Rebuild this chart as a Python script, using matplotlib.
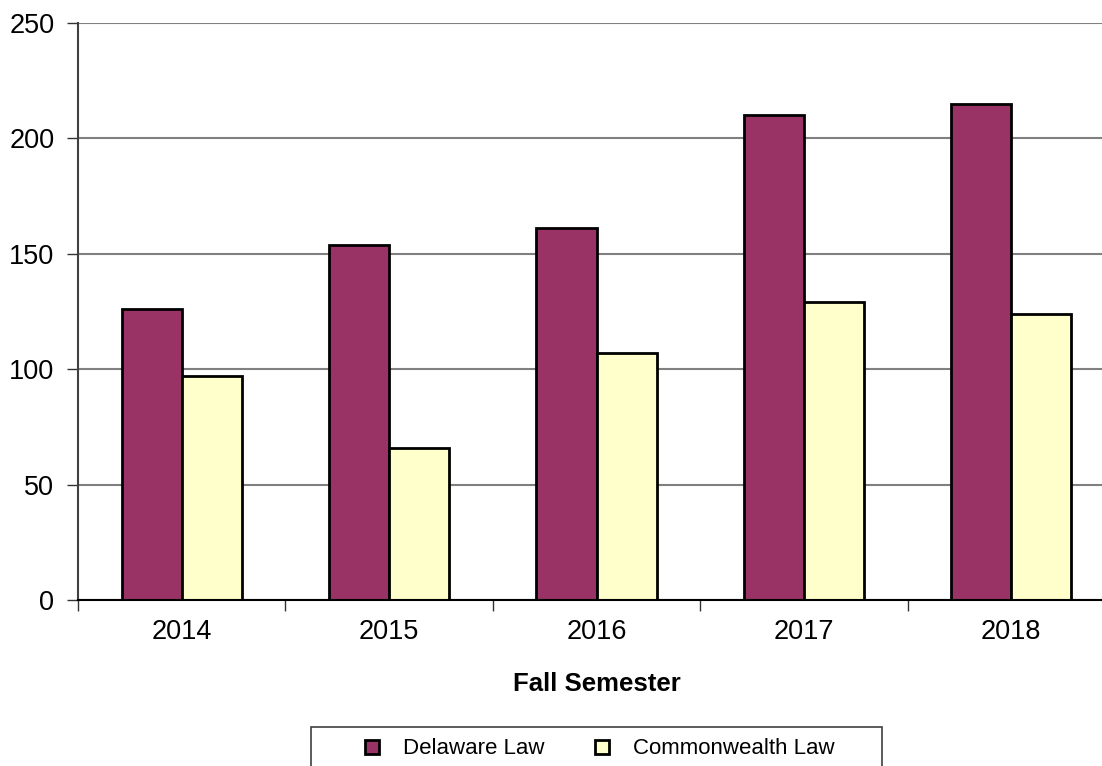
import numpy as np
import matplotlib
matplotlib.use('Agg')
import matplotlib.pyplot as plt
from matplotlib.lines import Line2D
from matplotlib.patches import Rectangle

plt.rcParams['font.family'] = ['Liberation Sans', 'DejaVu Sans']

years = ['2014', '2015', '2016', '2017', '2018']
delaware = [126, 154, 161, 210, 215]
commonwealth = [97, 66, 107, 129, 124]

c_del = '#993366'
c_com = '#FFFFCC'

fig = plt.figure(figsize=(11.02, 7.66), dpi=100)
# the plot area runs a little past the right edge of the picture
ax = fig.add_axes([78 / 1102, 1 - 600 / 766, 1037 / 1102, 577 / 766])

x = np.arange(len(years))
w = 0.29
ax.bar(x - w / 2, delaware, w, color=c_del, edgecolor='black', linewidth=2, zorder=3)
ax.bar(x + w / 2, commonwealth, w, color=c_com, edgecolor='black', linewidth=2, zorder=3)

ax.set_xlim(-0.5, len(years) - 0.5)
ax.set_ylim(0, 250)
ax.set_yticks(np.arange(0, 251, 50))
ax.yaxis.grid(True, color='#808080', linewidth=1.5, zorder=0)
ax.set_axisbelow(True)

ax.set_xticks(x)
ax.set_xticklabels(years)
ax.set_xticks(np.arange(-0.5, len(years), 1), minor=True)
ax.tick_params(axis='x', which='major', length=0, labelsize=19.5, pad=14)
ax.tick_params(axis='x', which='minor', length=8, width=1, color='#333333', direction='out')
ax.tick_params(axis='y', length=8, width=1, color='#333333', labelsize=19.5, pad=9)

for s in ['top', 'right']:
    ax.spines[s].set_visible(False)
ax.spines['left'].set_color('#404040')
ax.spines['left'].set_linewidth(1.5)
ax.spines['bottom'].set_color('black')
ax.spines['bottom'].set_linewidth(1.5)
ax.spines['bottom'].set_zorder(4)

ax.set_xlabel('Fall Semester', fontsize=18.5, fontweight='bold', labelpad=19)

# legend box, cut off at the bottom like the original
fig.patches.append(Rectangle((311 / 1102, -0.05), 571 / 1102, 0.05 + 1 - 727 / 766,
                             transform=fig.transFigure, fill=False,
                             edgecolor='#404040', linewidth=1.2))
handles = [Line2D([], [], marker='s', linestyle='none', markersize=9.5,
                  markerfacecolor=c_del, markeredgecolor='black', markeredgewidth=2),
           Line2D([], [], marker='s', linestyle='none', markersize=9.5,
                  markerfacecolor=c_com, markeredgecolor='black', markeredgewidth=2)]
fig.legend(handles, ['Delaware Law', 'Commonwealth Law'], loc='center',
           bbox_to_anchor=(592 / 1102, 1 - 749 / 766), ncol=2, frameon=False,
           fontsize=16, handletextpad=0.4, columnspacing=1.6,
           borderpad=0, borderaxespad=0)

fig.savefig('out.png', dpi=100)
